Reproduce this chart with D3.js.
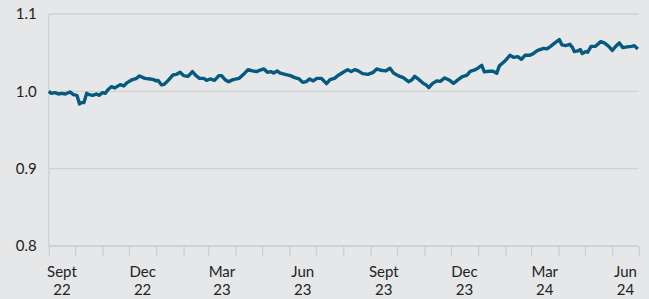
<!DOCTYPE html>
<html>
<head>
<meta charset="utf-8">
<script src="https://cdn.jsdelivr.net/npm/d3@7"></script>
<style>
    html, body { margin: 0; padding: 0; background: #e6e7e9; }
    #chart text { font-family: "Lato", "Open Sans", sans-serif; fill: #222; }
</style>
</head>
<body>
<div id="chart"></div>
<script>
// Values (roughly every 4-5 days)
const dates2022 = ["09-01","09-04","09-08","09-12","09-16","09-20","09-25","09-29","10-03","10-06",
    "10-08","10-11","10-14","10-17","10-21","10-25","10-28","11-01","11-04","11-07",
    "11-11","11-15","11-21","11-25","11-29","12-04","12-09","12-13","12-19","12-25","12-29"];
const values2022 = [1.000,0.9974,0.9983,0.9966,0.9974,0.9966,0.9992,0.9957,0.9948,0.9837,
    0.9854,0.9854,0.9974,0.9957,0.9948,0.9966,0.9948,0.9983,0.9974,1.0018,
    1.0061,1.0044,1.0087,1.0070,1.0113,1.0147,1.0164,1.0199,1.0168,1.0160,1.0151];

const dates2023 = ["01-01","01-03","01-07","01-10","01-14","01-20","01-24","01-28","02-01","02-06",
    "02-11","02-15","02-19","02-24","02-27","03-03","03-08","03-13","03-16","03-20",
    "03-24","03-29","04-05","04-10","04-15","04-20","04-25","04-28","05-03","05-07",
    "05-11","05-14","05-18","05-21","05-27","06-02","06-07","06-12","06-16","06-20",
    "06-24","06-28","07-02","07-07","07-11","07-13","07-17","07-22","07-27","08-01",
    "08-06","08-10","08-14","08-18","08-23","08-29","09-04","09-08","09-13","09-18",
    "09-23","09-27","10-02","10-08","10-14","10-18","10-21","10-26","10-31","11-03",
    "11-06","11-10","11-15","11-19","11-24","11-29","12-04","12-09","12-14","12-19",
    "12-23","12-28"];
const values2023 = [1.0135,1.0142,1.0083,1.0091,1.0135,1.0212,1.0220,1.0246,1.0203,1.0194,
    1.0255,1.0203,1.0168,1.0168,1.0142,1.0160,1.0142,1.0203,1.0203,1.0151,
    1.0125,1.0151,1.0168,1.0220,1.0281,1.0264,1.0255,1.0272,1.0290,1.0246,
    1.0255,1.0238,1.0264,1.0238,1.0220,1.0203,1.0177,1.0160,1.0116,1.0125,
    1.0160,1.0135,1.0168,1.0168,1.0125,1.0100,1.0151,1.0168,1.0212,1.0246,
    1.0281,1.0255,1.0281,1.0264,1.0229,1.0220,1.0246,1.0290,1.0272,1.0264,
    1.0298,1.0238,1.0203,1.0177,1.0125,1.0151,1.0194,1.0151,1.0100,1.0083,
    1.0048,1.0100,1.0135,1.0129,1.0173,1.0147,1.0103,1.0147,1.0190,1.0207,
    1.0259,1.0277];

const dates2024 = ["01-01","01-05","01-08","01-13","01-18","01-22","01-25","01-31","02-06","02-10",
    "02-15","02-19","02-23","02-28","03-03","03-08","03-11","03-15","03-19","03-23",
    "03-28","04-02","04-05","04-09","04-14","04-17","04-19","04-23","04-26","04-28",
    "05-02","05-04","05-08","05-13","05-19","05-23","05-28","06-01","06-05","06-09",
    "06-13","06-18","06-23","06-26","06-30"];
const values2024 = [1.0303,1.0336,1.0251,1.0259,1.0259,1.0233,1.0329,1.0388,1.0466,1.0440,
    1.0449,1.0414,1.0466,1.0466,1.0484,1.0527,1.0539,1.0556,1.0549,1.0582,
    1.0626,1.0669,1.0600,1.0591,1.0608,1.0565,1.0514,1.0523,1.0539,1.0488,
    1.0514,1.0505,1.0582,1.0582,1.0643,1.0626,1.0582,1.0530,1.0582,1.0626,
    1.0565,1.0574,1.0582,1.0591,1.0548];

const yTicks = [0.8, 0.9, 1.0, 1.1];
const monthNames = ["Jan","Feb","Mar","Apr","May","Jun","Jul","Aug","Sept","Oct","Nov","Dec"];

function init() {
    const w = 649;
    const h = 299;
    const left = 48.7, right = 638.7, top = 14, bottom = 246;

    const parse = d3.timeParse("%Y-%m-%d");
    const dataset = [].concat(
        dates2022.map((d, i) => ({ date: parse("2022-" + d), value: values2022[i] })),
        dates2023.map((d, i) => ({ date: parse("2023-" + d), value: values2023[i] })),
        dates2024.map((d, i) => ({ date: parse("2024-" + d), value: values2024[i] }))
    );

    const start = new Date(2022, 8, 1);
    const end = new Date(2024, 6, 1);

    const xScale = d3.scaleTime()
        .domain([start, end])
        .range([left, right]);

    const yScale = d3.scaleLinear()
        .domain([0.8, 1.1])
        .range([bottom, top]);

    const svg = d3.select("#chart")
        .append("svg")
        .attr("width", w)
        .attr("height", h);

    svg.append("rect")
        .attr("width", w)
        .attr("height", h)
        .attr("fill", "#e6e7e9");

    // horizontal gridlines
    svg.append("g")
        .selectAll("line")
        .data(yTicks.slice(1))
        .enter()
        .append("line")
        .attr("x1", left)
        .attr("x2", right)
        .attr("y1", d => yScale(d))
        .attr("y2", d => yScale(d))
        .attr("stroke", "#d0d1d3")
        .attr("stroke-width", 1.3);

    // left axis line
    svg.append("line")
        .attr("x1", left).attr("x2", left)
        .attr("y1", top).attr("y2", bottom)
        .attr("stroke", "#d0d1d3")
        .attr("stroke-width", 1.3);

    // y labels
    const yAxis = d3.axisLeft(yScale)
        .tickValues(yTicks)
        .tickSize(0)
        .tickPadding(12)
        .tickFormat(d3.format(".1f"));

    const gy = svg.append("g")
        .attr("transform", `translate(${left},0)`)
        .call(yAxis);
    gy.select(".domain").remove();
    gy.selectAll("text").attr("font-size", "15px");

    // x axis: monthly ticks
    const xAxis = d3.axisBottom(xScale)
        .ticks(d3.timeMonth.every(1))
        .tickSize(10)
        .tickFormat("");

    const gx = svg.append("g")
        .attr("transform", `translate(0,${bottom})`)
        .call(xAxis);
    gx.select(".domain")
        .attr("stroke", "#d0d1d3")
        .attr("stroke-width", 2)
        .attr("d", `M${left},0H${right}`);
    gx.selectAll(".tick line")
        .attr("stroke", "#cdced0")
        .attr("stroke-width", 1.3);

    // quarter labels (Sept, Dec, Mar, Jun), centred on the month
    const labelMonths = d3.timeMonth.range(start, end, 3);
    const midX = d => (xScale(d) + xScale(d3.timeMonth.offset(d, 1))) / 2;
    const labels = svg.append("g")
        .selectAll("text")
        .data(labelMonths)
        .enter()
        .append("text")
        .attr("text-anchor", "middle")
        .attr("font-size", "15px");
    labels.append("tspan")
        .attr("x", midX)
        .attr("y", 277)
        .text(d => monthNames[d.getMonth()]);
    labels.append("tspan")
        .attr("x", midX)
        .attr("y", 295)
        .text(d => d3.timeFormat("%y")(d));

    // the line
    const line = d3.line()
        .x(d => xScale(d.date))
        .y(d => yScale(d.value));

    svg.append("path")
        .datum(dataset)
        .attr("fill", "none")
        .attr("stroke", "#065a7e")
        .attr("stroke-width", 3.4)
        .attr("stroke-linejoin", "round")
        .attr("d", line);
}

window.onload = init;
</script>
</body>
</html>
